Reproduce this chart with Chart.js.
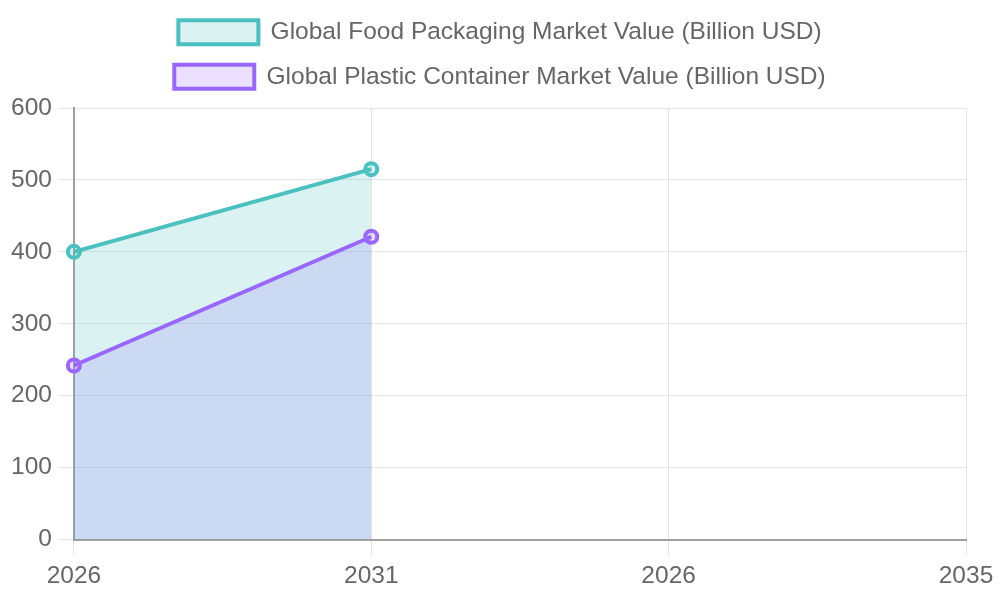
<!DOCTYPE html>
<html>
<head>
<meta charset="utf-8">
<script src="https://cdn.jsdelivr.net/npm/chart.js@4/dist/chart.umd.min.js"></script>
<style>
  html, body { margin: 0; padding: 0; background: #fff; }
  #wrap { width: 1000px; height: 600px; }
</style>
</head>
<body>
<div id="wrap"><canvas id="market-chart"></canvas></div>
<script>
// Chart data
const years = ['2026', '2031', '2026', '2035'];
const foodPackaging = [400, 515];
const plasticContainers = [242, 421];
const yTicks = [0, 100, 200, 300, 400, 500, 600];

Chart.defaults.font.family = "'Liberation Sans', Arial, sans-serif";
Chart.defaults.color = '#666';

// Leave a little more room under the legend
const legendGap = {
    id: 'legendGap',
    beforeInit(chart) {
        const origFit = chart.legend.fit;
        chart.legend.fit = function () {
            origFit.bind(chart.legend)();
            this.height += 9;
        };
    }
};

const ctx = document.getElementById('market-chart').getContext('2d');
window.marketChart = new Chart(ctx, {
    type: 'line',
    data: {
        labels: years,
        datasets: [{
            label: 'Global Food Packaging Market Value (Billion USD)',
            data: foodPackaging,
            fill: 'origin',
            backgroundColor: 'rgba(75, 192, 192, 0.2)',
            borderColor: 'rgba(75, 192, 192, 1)',
            borderWidth: 4,
            pointRadius: 6,
            pointBorderWidth: 4,
            tension: 0
        }, {
            label: 'Global Plastic Container Market Value (Billion USD)',
            data: plasticContainers,
            fill: 'origin',
            backgroundColor: 'rgba(153, 102, 255, 0.2)',
            borderColor: 'rgba(153, 102, 255, 1)',
            borderWidth: 4,
            pointRadius: 6,
            pointBorderWidth: 4,
            tension: 0
        }]
    },
    plugins: [legendGap],
    options: {
        responsive: true,
        maintainAspectRatio: false,
        animation: false,
        layout: { padding: { bottom: 3 } },
        plugins: {
            filler: { drawTime: 'beforeDatasetsDraw' },
            legend: {
                labels: {
                    font: { size: 24.5 },
                    boxWidth: 80,
                    boxHeight: 24,
                    padding: 20
                }
            },
            tooltip: { enabled: false }
        },
        scales: {
            x: {
                offset: false,
                afterFit(scale) { scale.paddingRight = 34; },
                grid: { tickLength: 16, color: 'rgba(0, 0, 0, 0.1)' },
                border: { color: '#a0a0a0', width: 2 },
                ticks: { font: { size: 24.5 }, padding: 6, maxRotation: 0 }
            },
            y: {
                beginAtZero: true,
                min: yTicks[0],
                max: yTicks[yTicks.length - 1],
                afterFit(scale) { scale.width += 5; },
                grid: { tickLength: 16, color: 'rgba(0, 0, 0, 0.1)' },
                border: { color: '#a0a0a0', width: 2 },
                ticks: { font: { size: 24.5 }, padding: 6, stepSize: 100 }
            }
        }
    }
});
</script>
</body>
</html>
